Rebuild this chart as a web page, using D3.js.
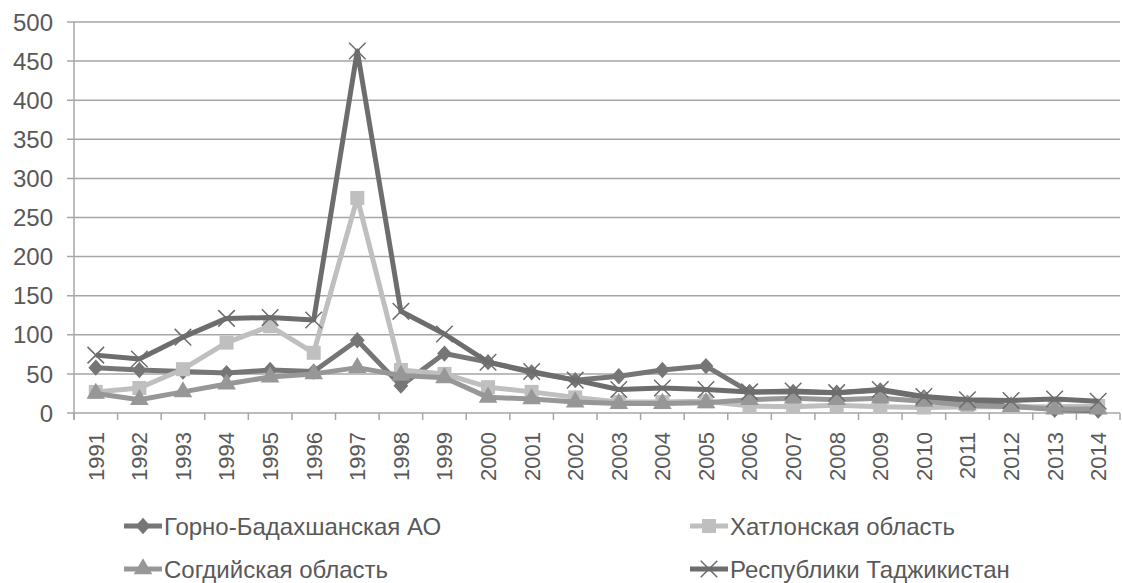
<!DOCTYPE html>
<html>
<head>
<meta charset="utf-8">
<script src="https://cdn.jsdelivr.net/npm/d3@7"></script>
<style>
  body { margin: 0; background: #fff; }
  text { font-family: "Liberation Sans", Arial, sans-serif; fill: #595959; }
</style>
</head>
<body>
<div id="chart"></div>
<script>
var years = ["1991","1992","1993","1994","1995","1996","1997","1998","1999","2000","2001","2002",
             "2003","2004","2005","2006","2007","2008","2009","2010","2011","2012","2013","2014"];
var yTicks = [0, 50, 100, 150, 200, 250, 300, 350, 400, 450, 500];

var gbao    = [58, 55, 53, 51, 55, 53, 93, 35, 76, 65, 52, 42, 47, 55, 60, 27, 27, 26, 29, 20, 13, 10, 4, 3];
var khatlon = [27, 32, 56, 90, 111, 77, 275, 55, 50, 33, 27, 20, 14, 14, 15, 9, 8, 10, 8, 7, 8, 8, 8, 9];
var sogd    = [25, 17, 27, 37, 46, 50, 58, 48, 45, 20, 18, 14, 12, 12, 13, 17, 19, 17, 19, 15, 10, 8, 5, 5];
var rt      = [74, 69, 97, 121, 122, 119, 463, 130, 101, 65, 53, 42, 30, 32, 30, 27, 28, 26, 30, 21, 17, 16, 18, 15];

var series = [
  { name: "Горно-Бадахшанская АО", values: gbao, color: "#767676", symbol: "diamond" },
  { name: "Хатлонская область", values: khatlon, color: "#bfbfbf", symbol: "square" },
  { name: "Согдийская область", values: sogd, color: "#979797", symbol: "triangle" },
  { name: "Республики Таджикистан", values: rt, color: "#6d6d6d", symbol: "cross" }
];

var W = 1122, H = 583;
var margin = { left: 74, right: 2, top: 22, bottom: 170 };
var width = W - margin.left - margin.right;
var height = H - margin.top - margin.bottom;

var svg = d3.select("#chart").append("svg")
  .attr("width", W).attr("height", H);
var g = svg.append("g")
  .attr("transform", "translate(" + margin.left + "," + margin.top + ")");

var x = d3.scaleBand().domain(years).range([0, width]);
var y = d3.scaleLinear().domain([0, 500]).range([height, 0]);

// gridlines
g.selectAll("line.grid").data(yTicks).enter().append("line")
  .attr("class", "grid")
  .attr("x1", -7).attr("x2", width)
  .attr("y1", function (d) { return y(d); })
  .attr("y2", function (d) { return y(d); })
  .attr("stroke", "#a6a6a6").attr("stroke-width", 1.5);

// y labels
g.selectAll("text.ylab").data(yTicks).enter().append("text")
  .attr("class", "ylab")
  .attr("x", -21).attr("y", function (d) { return y(d); })
  .attr("dy", "0.36em")
  .attr("text-anchor", "end")
  .attr("font-size", "24px")
  .text(function (d) { return d; });

// y axis line
g.append("line").attr("x1", 0).attr("x2", 0).attr("y1", 0).attr("y2", height + 7)
  .attr("stroke", "#a6a6a6").attr("stroke-width", 1.5);

// x ticks
var xt = years.map(function (d) { return x(d); }).concat([width]);
g.selectAll("line.xtick").data(xt).enter().append("line")
  .attr("x1", function (d) { return d; }).attr("x2", function (d) { return d; })
  .attr("y1", height).attr("y2", height + 7)
  .attr("stroke", "#a6a6a6").attr("stroke-width", 1.5);

// x labels
g.selectAll("text.xlab").data(years).enter().append("text")
  .attr("class", "xlab")
  .attr("transform", function (d) {
    return "translate(" + (x(d) + x.bandwidth() / 2) + "," + (height + 19) + ") rotate(-90)";
  })
  .attr("dy", "0.36em")
  .attr("text-anchor", "end")
  .attr("font-size", "22px")
  .text(function (d) { return d; });

function cx(i) { return x(years[i]) + x.bandwidth() / 2; }

function drawMarker(sel, s, px, py) {
  if (s.symbol === "diamond") {
    sel.append("path").attr("d", d3.symbol().type(d3.symbolDiamond2).size(140)())
      .attr("transform", "translate(" + px + "," + py + ") scale(1,1.1)")
      .attr("fill", s.color);
  } else if (s.symbol === "square") {
    sel.append("rect").attr("x", px - 7).attr("y", py - 7).attr("width", 14).attr("height", 14)
      .attr("fill", s.color);
  } else if (s.symbol === "triangle") {
    sel.append("path").attr("d", d3.symbol().type(d3.symbolTriangle).size(150)())
      .attr("transform", "translate(" + px + "," + py + ")")
      .attr("fill", s.color);
  } else {
    sel.append("path").attr("d", d3.symbol().type(d3.symbolX).size(180)())
      .attr("transform", "translate(" + px + "," + py + ")")
      .attr("stroke", s.color).attr("stroke-width", 1.5).attr("fill", "none");
  }
}

var line = d3.line()
  .x(function (d, i) { return cx(i); })
  .y(function (d) { return y(d); });

series.forEach(function (s) {
  var sg = g.append("g");
  sg.append("path").datum(s.values)
    .attr("d", line)
    .attr("fill", "none")
    .attr("stroke", s.color)
    .attr("stroke-width", 5)
    .attr("stroke-linejoin", "round");
  s.values.forEach(function (v, i) { drawMarker(sg, s, cx(i), y(v)); });
});

// legend
var legendPos = [[124, 526], [690, 526], [124, 569], [690, 569]];
series.forEach(function (s, i) {
  var lg = svg.append("g");
  var lx = legendPos[i][0], ly = legendPos[i][1];
  lg.append("line").attr("x1", lx).attr("x2", lx + 38).attr("y1", ly).attr("y2", ly)
    .attr("stroke", s.color).attr("stroke-width", 5);
  drawMarker(lg, s, lx + 19, ly);
  lg.append("text").attr("x", lx + 40).attr("y", ly).attr("dy", "0.36em")
    .attr("font-size", "24px").text(s.name);
});
</script>
</body>
</html>
